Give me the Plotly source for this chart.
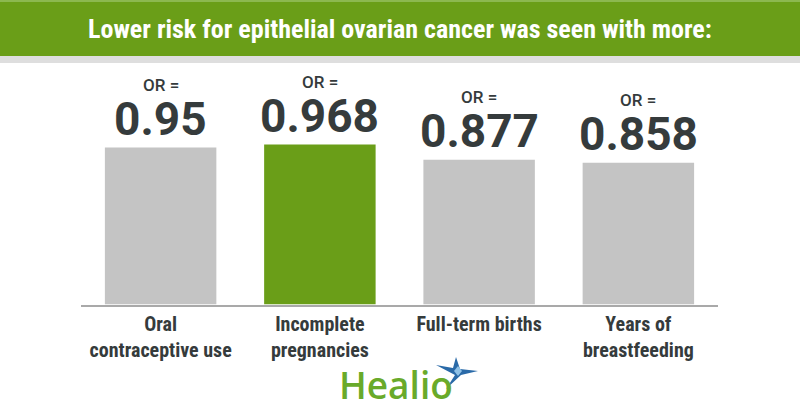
import plotly.graph_objects as go

# ---- data ----
categories = ["Oral<br>contraceptive use", "Incomplete<br>pregnancies",
              "Full-term births", "Years of<br>breastfeeding"]
odds_ratios = [0.95, 0.968, 0.877, 0.858]
value_labels = ["0.95", "0.968", "0.877", "0.858"]
highlight = [False, True, False, False]
title_text = "Lower risk for epithelial ovarian cancer was seen with more:"
logo_text = "Healio"

# ---- style ----
W, H = 800, 420
GREEN = "#6a9e18"
GRAY = "#c4c4c4"
DARK = "#353b3c"
NARROW = "Liberation Sans Narrow, Roboto Condensed, Arial Narrow, Roboto, sans-serif"


def px(x):
    return x / W


def py(y):
    return 1 - y / H


fig = go.Figure(
    go.Bar(
        x=categories,
        y=odds_ratios,
        marker=dict(color=[GREEN if h else GRAY for h in highlight], line=dict(width=0)),
        hoverinfo="skip",
    )
)

fig.update_layout(
    width=W,
    height=H,
    margin=dict(l=0, r=0, t=0, b=0),
    paper_bgcolor="white",
    plot_bgcolor="white",
    bargap=0.3,
    showlegend=False,
    xaxis=dict(
        domain=[px(81), px(718)],
        showline=True,
        linecolor="#a9a9a9",
        linewidth=2,
        showgrid=False,
        zeroline=False,
        ticks="outside",
        ticklen=0,
        tickcolor="rgba(0,0,0,0)",
        tickfont=dict(family=NARROW, size=20, color=DARK, weight="bold"),
        fixedrange=True,
    ),
    yaxis=dict(domain=[py(304.5), py(65)], range=[0, 1.45], visible=False, fixedrange=True),
)

shapes = [
    dict(type="rect", xref="paper", yref="paper", x0=0, x1=1, y0=py(56), y1=1,
         fillcolor=GREEN, line=dict(width=0), layer="below"),
    dict(type="rect", xref="paper", yref="paper", x0=0, x1=1, y0=py(2), y1=1,
         fillcolor="#8cb850", line=dict(width=0), layer="below"),
    dict(type="rect", xref="paper", yref="paper", x0=0, x1=1, y0=py(63), y1=py(56),
         fillcolor="#dedede", line=dict(width=0), layer="below"),
]

# star of the logo (decoration)
star_pts = [(456, 357), (460, 369), (478, 371), (461, 375), (446, 389), (455, 375), (436, 365), (453, 368)]
path = "M " + " L ".join(f"{px(x)},{py(y)}" for x, y in star_pts) + " Z"
shapes.append(dict(type="path", xref="paper", yref="paper", path=path,
                   fillcolor="#2a6aa8", line=dict(width=0)))
star2 = [(458, 366), (462, 371), (458, 376), (454, 371)]
shapes.append(dict(type="path", xref="paper", yref="paper",
                   path="M " + " L ".join(f"{px(x)},{py(y)}" for x, y in star2) + " Z",
                   fillcolor="#8fc1e6", line=dict(width=0)))

annotations = [
    dict(text=title_text, xref="paper", yref="paper", x=px(400), y=py(29), xanchor="center",
         yanchor="middle", showarrow=False,
         font=dict(family=NARROW, size=26, color="white", weight="bold")),
    dict(text=logo_text, xref="paper", yref="paper", x=px(396), y=py(384), xanchor="center",
         yanchor="middle", showarrow=False,
         font=dict(family="Open Sans, sans-serif", size=37, color="#69aa2a", weight=600)),
]

for cat, val, lab in zip(categories, odds_ratios, value_labels):
    annotations.append(dict(text="OR =", x=cat, y=val, xref="x", yref="y", yanchor="middle",
                            yshift=63, showarrow=False, borderpad=0,
                            font=dict(family="Roboto, sans-serif", size=17, color=DARK, weight=500)))
    annotations.append(dict(text=lab, x=cat, y=val, xref="x", yref="y", yanchor="middle",
                            yshift=29, showarrow=False, borderpad=0,
                            font=dict(family="Roboto, sans-serif", size=46, color=DARK, weight="bold")))

fig.update_layout(shapes=shapes, annotations=annotations)
fig.write_html("out.html", config={"displayModeBar": False},
               post_script="document.body.style.margin='0';")
